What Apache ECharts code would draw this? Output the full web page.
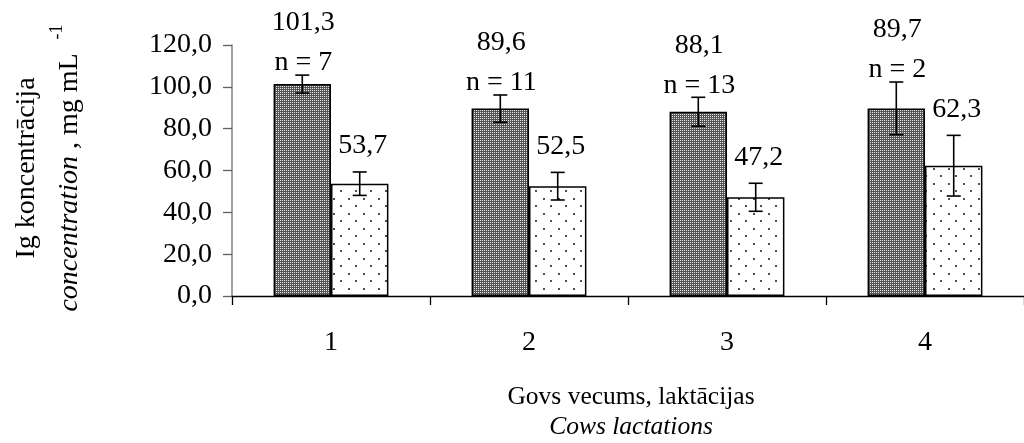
<!DOCTYPE html>
<html>
<head>
<meta charset="utf-8">
<script src="https://cdn.jsdelivr.net/npm/echarts@6/dist/echarts.min.js"></script>
<style>
html,body{margin:0;padding:0;background:#fff;}
#chart{width:1024px;height:443px;}
</style>
</head>
<body>
<div id="chart"></div>
<script>
// ---- data ----
const categories = ['1', '2', '3', '4'];
const darkValues = [101.3, 89.6, 88.1, 89.7];
const darkErr = [4.3, 6.5, 6.9, 12.6];
const nCounts = [7, 11, 13, 2];
const lightValues = [53.7, 52.5, 47.2, 62.3];
const lightErr = [5.6, 6.6, 6.7, 14.5];
const yTicks = [0, 20, 40, 60, 80, 100, 120];

const FONT = '"Liberation Serif", "Times New Roman", serif';
const FS = 28;
const FS_XT = 25.5;
const BAR_FRAC = 0.29;

function fmt(v) { return v.toFixed(1).replace('.', ','); }

function darkPattern() {
  const c = document.createElement('canvas');
  c.width = 2; c.height = 2;
  const g = c.getContext('2d');
  g.fillStyle = '#555555'; g.fillRect(0, 0, 2, 2);
  g.fillStyle = '#e6e6e6'; g.fillRect(0, 0, 1, 1);
  return c;
}
function dotPattern() {
  const c = document.createElement('canvas');
  c.width = 15; c.height = 15;
  const g = c.getContext('2d');
  g.fillStyle = '#ffffff'; g.fillRect(0, 0, 15, 15);
  g.fillStyle = '#505050';
  g.fillRect(3, 3, 2, 2);
  g.fillRect(10, 10, 2, 2);
  return c;
}

function errRender(side, isDark) {
  return function (params, api) {
    const i = api.value(0), v = api.value(1), e = api.value(2);
    const bw = api.size([1, 0])[0] * BAR_FRAC;
    const cx = api.coord([i, v])[0] + side * bw / 2;
    const top = api.coord([i, v + e])[1];
    const bot = api.coord([i, v - e])[1];
    const cap = 7;
    const ls = { stroke: '#000', lineWidth: 1.6 };
    const children = [
      { type: 'line', shape: { x1: cx, y1: top, x2: cx, y2: bot }, style: ls },
      { type: 'line', shape: { x1: cx - cap, y1: top, x2: cx + cap, y2: top }, style: ls },
      { type: 'line', shape: { x1: cx - cap, y1: bot, x2: cx + cap, y2: bot }, style: ls }
    ];
    const ts = { fontFamily: FONT, fontSize: FS, fill: '#000', align: 'center', verticalAlign: 'middle' };
    if (isDark) {
      const n = nCounts[params.dataIndex];
      children.push({ type: 'text', style: Object.assign({ text: 'n = ' + n, x: cx + 1, y: top - 12 }, ts) });
      children.push({ type: 'text', style: Object.assign({ text: fmt(v), x: cx + 1, y: top - 52 }, ts) });
    } else {
      children.push({ type: 'text', style: Object.assign({ text: fmt(v), x: cx + 3, y: top - 26 }, ts) });
    }
    return { type: 'group', children: children };
  };
}

const chart = echarts.init(document.getElementById('chart'), null, { renderer: 'canvas' });

const option = {
  animation: false,
  backgroundColor: '#fff',
  grid: { left: 232, top: 45, right: -6, bottom: 147, containLabel: false },
  xAxis: {
    type: 'category',
    data: categories,
    boundaryGap: true,
    axisLine: { show: true, lineStyle: { color: '#000', width: 1.3 } },
    axisTick: { show: true, length: 9, lineStyle: { color: '#000', width: 1.3 } },
    axisLabel: { margin: 33, color: '#000', fontFamily: FONT, fontSize: FS },
    splitLine: { show: false }
  },
  yAxis: {
    type: 'value',
    min: yTicks[0],
    max: yTicks[yTicks.length - 1],
    interval: yTicks[1] - yTicks[0],
    axisLine: { show: true, lineStyle: { color: '#808080', width: 1.5 } },
    axisTick: { show: true, inside: false, length: 9, lineStyle: { color: '#606060', width: 1.3 } },
    axisLabel: { margin: 20, color: '#000', fontFamily: FONT, fontSize: FS, formatter: fmt },
    splitLine: { show: false }
  },
  graphic: [
    {
      type: 'text',
      x: 48, y: 168,
      rotation: Math.PI / 2,
      style: {
        text: '{a|Ig koncentrācija}\n{i|concentration}{a| , mg mL  }{s|-1}',
        align: 'center', verticalAlign: 'middle',
        fill: '#000',
        rich: {
          a: { fontFamily: FONT, fontSize: FS, lineHeight: 43, fill: '#000' },
          i: { fontFamily: FONT, fontSize: FS, fontStyle: 'italic', lineHeight: 43, fill: '#000' },
          s: { fontFamily: FONT, fontSize: 18, lineHeight: 43, verticalAlign: 'top', fill: '#000' }
        }
      }
    },
    {
      type: 'text',
      x: 631, y: 412,
      style: {
        text: '{a|Govs vecums, laktācijas}\n{i|Cows lactations}',
        align: 'center', verticalAlign: 'middle',
        fill: '#000',
        rich: {
          a: { fontFamily: FONT, fontSize: FS_XT, lineHeight: 30, fill: '#000' },
          i: { fontFamily: FONT, fontSize: FS_XT, fontStyle: 'italic', lineHeight: 30, fill: '#000' }
        }
      }
    }
  ],
  series: [
    {
      type: 'bar',
      data: darkValues,
      barWidth: (BAR_FRAC * 100) + '%',
      barGap: '0%',
      itemStyle: { color: { image: darkPattern(), repeat: 'repeat' }, borderColor: '#000', borderWidth: 1.5 },
      z: 2
    },
    {
      type: 'bar',
      data: lightValues,
      barWidth: (BAR_FRAC * 100) + '%',
      barGap: '0%',
      itemStyle: { color: { image: dotPattern(), repeat: 'repeat' }, borderColor: '#000', borderWidth: 1.5 },
      z: 2
    },
    {
      type: 'custom',
      coordinateSystem: 'cartesian2d',
      data: darkValues.map((v, i) => [i, v, darkErr[i]]),
      encode: { x: 0, y: 1 },
      renderItem: errRender(-1, true),
      clip: false,
      z: 5
    },
    {
      type: 'custom',
      coordinateSystem: 'cartesian2d',
      data: lightValues.map((v, i) => [i, v, lightErr[i]]),
      encode: { x: 0, y: 1 },
      renderItem: errRender(1, false),
      clip: false,
      z: 5
    }
  ]
};
chart.setOption(option);
</script>
</body>
</html>
